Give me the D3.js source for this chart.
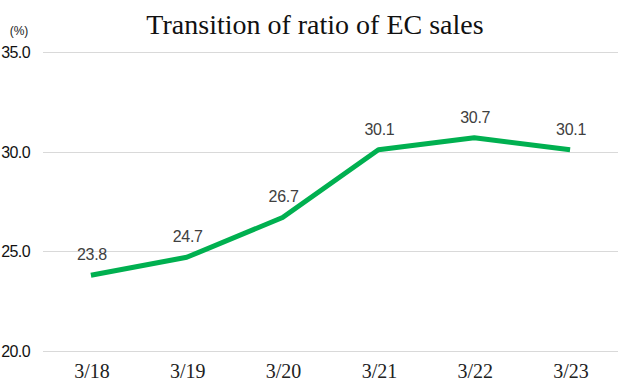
<!DOCTYPE html>
<html>
<head>
<meta charset="utf-8">
<script src="https://cdn.jsdelivr.net/npm/d3@7"></script>
<style>
  body { margin: 0; background: #fff; }
  svg { display: block; }
</style>
</head>
<body>
<svg id="chart" width="626" height="390"></svg>
<script>
const months = ["3/18", "3/19", "3/20", "3/21", "3/22", "3/23"];
const ratios = [23.8, 24.7, 26.7, 30.1, 30.7, 30.1];
const yTicks = [20, 25, 30, 35];

const width = 626, height = 390;
const margin = { top: 52, right: 8, bottom: 39, left: 43 };

const svg = d3.select("#chart");

const x = d3.scaleBand()
  .domain(months)
  .range([margin.left, width - margin.right]);

const y = d3.scaleLinear()
  .domain([20, 35])
  .range([height - margin.bottom, margin.top]);

const cx = d => x(d) + x.bandwidth() / 2;

// gridlines
svg.append("g")
  .selectAll("line")
  .data(yTicks)
  .join("line")
  .attr("x1", margin.left)
  .attr("x2", width - margin.right)
  .attr("y1", d => Math.round(y(d)) + 0.5)
  .attr("y2", d => Math.round(y(d)) + 0.5)
  .attr("stroke", "#d9d9d9")
  .attr("stroke-width", 1);

// y labels
svg.append("g")
  .selectAll("text")
  .data(yTicks)
  .join("text")
  .attr("x", 30)
  .attr("y", d => y(d) + 6)
  .attr("text-anchor", "end")
  .attr("font-family", "Liberation Sans, Arial, sans-serif")
  .attr("font-size", "16px")
  .attr("letter-spacing", "-0.6px")
  .attr("fill", "#111")
  .text(d => d.toFixed(1));

svg.append("text")
  .attr("x", 19)
  .attr("y", 35)
  .attr("text-anchor", "middle")
  .attr("font-family", "Liberation Sans, Arial, sans-serif")
  .attr("font-size", "12px")
  .attr("fill", "#222")
  .text("(%)");

// x labels
svg.append("g")
  .selectAll("text")
  .data(months)
  .join("text")
  .attr("x", d => cx(d) + 1)
  .attr("y", 378)
  .attr("text-anchor", "middle")
  .attr("font-family", "Liberation Serif, Times New Roman, serif")
  .attr("font-size", "20px")
  .attr("fill", "#222")
  .text(d => d);

// line
const line = d3.line()
  .x((d, i) => cx(months[i]))
  .y(d => y(d));

svg.append("path")
  .datum(ratios)
  .attr("fill", "none")
  .attr("stroke", "#00b050")
  .attr("stroke-width", 5)
  .attr("stroke-linejoin", "round")
  .attr("d", line);

// value labels
svg.append("g")
  .selectAll("text")
  .data(ratios)
  .join("text")
  .attr("x", (d, i) => cx(months[i]) + 1)
  .attr("y", d => y(d) - 15)
  .attr("text-anchor", "middle")
  .attr("font-family", "Liberation Sans, Arial, sans-serif")
  .attr("font-size", "16px")
  .attr("letter-spacing", "-0.3px")
  .attr("fill", "#404040")
  .text(d => d.toFixed(1));

// title
svg.append("text")
  .attr("x", 315)
  .attr("y", 34)
  .attr("text-anchor", "middle")
  .attr("font-family", "Liberation Serif, Times New Roman, serif")
  .attr("font-size", "28px")
  .attr("fill", "#111")
  .text("Transition of ratio of EC sales");
</script>
</body>
</html>
